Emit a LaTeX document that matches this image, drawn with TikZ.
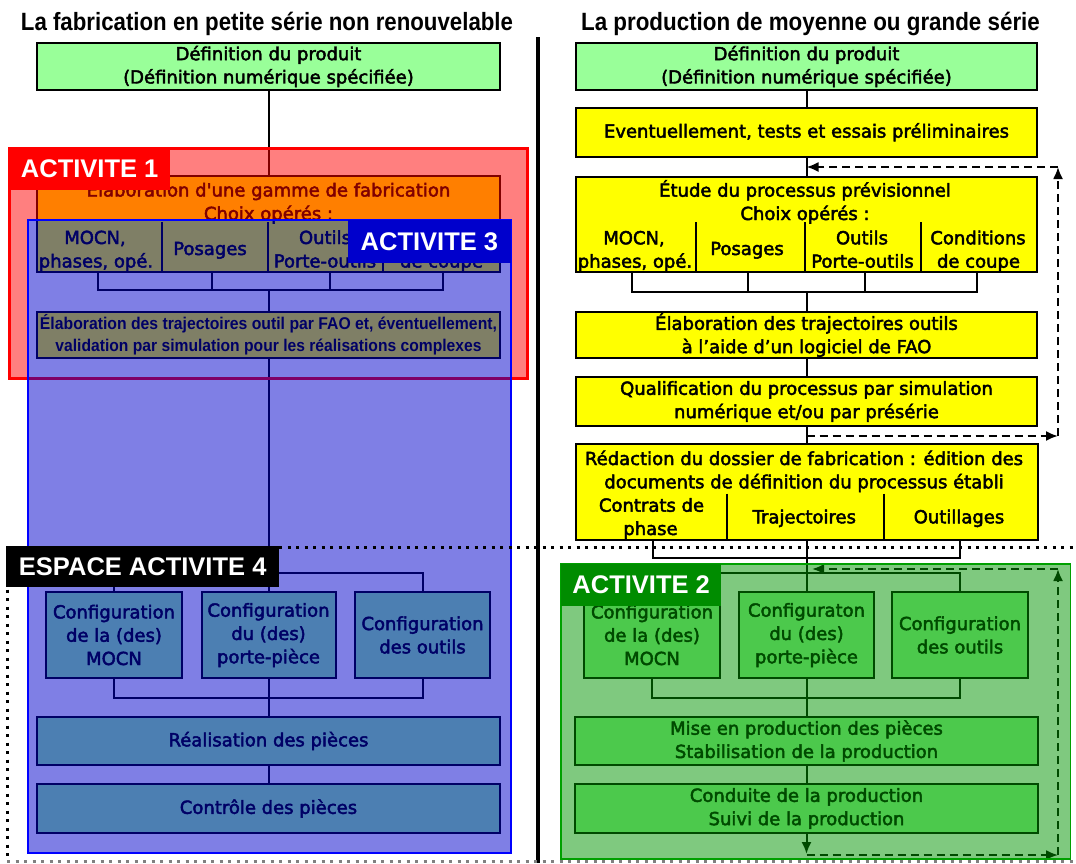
\documentclass[tikz,border=0pt]{standalone}
\usepackage{fontspec}
\usepackage{graphicx}
\setmainfont{DejaVu Sans}
\newfontfamily\boxfnt[FakeBold=2.5]{DejaVu Sans}
\newfontfamily\arialfnt{Liberation Sans}
\usetikzlibrary{arrows.meta}
\definecolor{lgreen}{HTML}{99FF99}
\definecolor{yel}{HTML}{FFFF00}
\definecolor{ovblue}{HTML}{0000CC}
\definecolor{ovgreen}{HTML}{009400}
\definecolor{lblgreen}{HTML}{008C00}
\definecolor{edgegreen}{HTML}{00A000}
\newcommand\bxf{\boxfnt\fontsize{18}{23.3}\selectfont}
\newcommand\lbf{\arialfnt\bfseries\fontsize{25.5}{30}\selectfont}
\newcommand\ttlf{\arialfnt\bfseries\fontsize{25}{30}\selectfont}
\newcommand\trjf{\arialfnt\bfseries\fontsize{17}{21.7}\selectfont}
\begin{document}
\begin{tikzpicture}[x=1pt,y=-1pt,
 bx/.style={draw=black, line width=2pt, inner sep=0pt, align=center, font=\bxf},
 tx/.style={inner sep=0pt, font=\bxf, anchor=base},
 ln/.style={line width=2pt, draw=black},
 dsh/.style={line width=2pt, draw=black, dash pattern=on 8pt off 5pt},
 tip/.style={-{Latex[length=12pt,width=10pt]}},
 lbl/.style={inner sep=0pt, anchor=north west, font=\lbf, text=white},
 dots/.style={line width=3pt, dash pattern=on 3pt off 5.5pt}
]
\fill[white] (0,0) rectangle (1076,863);
\useasboundingbox (0,0) rectangle (1076,863);

% titles
\node[inner sep=0pt, anchor=base] (ttlL) at (267,30.5) {\ttlf\scalebox{0.89}[1]{La fabrication en petite série non renouvelable}};
\node[inner sep=0pt, anchor=base] (ttlR) at (810.5,30.5) {\ttlf\scalebox{0.895}[1]{La production de moyenne ou grande série}};

% separator
\coordinate (sepT) at (538,37);
\coordinate (sepB) at (538,863);
\draw[line width=3.5pt] (sepT) -- (sepB);

% ================= LEFT =================
\node[bx, fill=lgreen, minimum width=463pt, minimum height=47pt] (defL) at (268.5,66.5) {Définition du produit\\(Définition numérique spécifiée)};
\node[bx, fill=yel, minimum width=463pt, minimum height=96pt] (gamL) at (268.5,224) {};
\node[tx] (gamL1) at (268.5,196.5) {Élaboration d'une gamme de fabrication};
\node[tx] (gamL2) at (268.5,220) {Choix opérés :};
\foreach \xx in {162,268,383} \draw[ln] (\xx,222) -- (\xx,272);
\node[tx] (cL1a) at (95,244) {MOCN,};
\node[tx] (cL1b) at (96,267.5) {phases, opé.};
\node[tx] (cL2) at (210,255) {Posages};
\node[tx] (cL3a) at (325,244) {Outils};
\node[tx] (cL3b) at (325,267.5) {Porte-outils};
\node[tx] (cL4a) at (441.5,244) {Conditions};
\node[tx] (cL4b) at (441.5,267.5) {de coupe};
\coordinate (dL1) at (98,272);
\coordinate (dL2) at (212,272);
\coordinate (dL3) at (330,272);
\coordinate (dL4) at (442.5,272);
\coordinate (busL1) at (268.5,290);
\node[bx, fill=yel, minimum width=463pt, minimum height=46pt, font=\trjf] (trajL) at (268.5,335) {\resizebox{457pt}{\height}{Élaboration des trajectoires outil par FAO et, éventuellement,}\\\resizebox{426pt}{\height}{validation par simulation pour les réalisations complexes}};
\draw[ln] (defL.south) -- (gamL.north);
\draw[ln] (dL1) -- (dL1 |- busL1) -- (dL4 |- busL1) -- (dL4);
\draw[ln] (dL2) -- (dL2 |- busL1);
\draw[ln] (dL3) -- (dL3 |- busL1);
\draw[ln] (busL1) -- (trajL.north);

\node[bx, fill=lgreen, minimum width=136pt, minimum height=86pt] (cfgL1) at (114,635) {Configuration\\de la (des)\\MOCN};
\node[bx, fill=lgreen, minimum width=134pt, minimum height=86pt] (cfgL2) at (268.5,635) {Configuration\\du (des)\\porte-pièce};
\node[bx, fill=lgreen, minimum width=135pt, minimum height=86pt] (cfgL3) at (422.5,635) {Configuration\\des outils};
\node[bx, fill=lgreen, minimum width=463pt, minimum height=48pt] (realL) at (268.5,741) {Réalisation des pièces};
\node[bx, fill=lgreen, minimum width=463pt, minimum height=49pt] (ctrlL) at (268.5,808.5) {Contrôle des pièces};
\coordinate (busL2) at (268.5,573);
\coordinate (busL3) at (268.5,698);
\draw[ln] (trajL.south) -- (cfgL2.north);
\draw[ln] (cfgL1.north) -- (cfgL1.north |- busL2) -- (cfgL3.north |- busL2) -- (cfgL3.north);
\draw[ln] (cfgL1.south) -- (cfgL1.south |- busL3) -- (cfgL3.south |- busL3) -- (cfgL3.south);
\draw[ln] (cfgL2.south) -- (realL.north);
\draw[ln] (realL.south) -- (ctrlL.north);

% ================= RIGHT =================
\node[bx, fill=lgreen, minimum width=461pt, minimum height=47pt] (defR) at (806.5,66.5) {Définition du produit\\(Définition numérique spécifiée)};
\node[bx, fill=yel, minimum width=461pt, minimum height=48.5pt] (evR) at (806.5,132.25) {Eventuellement, tests et essais préliminaires};
\node[bx, fill=yel, minimum width=461pt, minimum height=95pt] (etuR) at (806.5,224.5) {};
\node[tx] (etu1) at (805,196.7) {Étude du processus prévisionnel};
\node[tx] (etu2) at (805,220) {Choix opérés :};
\foreach \xx in {696,805,921} \draw[ln] (\xx,222) -- (\xx,272);
\node[tx] (cR1a) at (634,244.3) {MOCN,};
\node[tx] (cR1b) at (635,267.7) {phases, opé.};
\node[tx] (cR2) at (747,255) {Posages};
\node[tx] (cR3a) at (862,244.3) {Outils};
\node[tx] (cR3b) at (862.5,267.7) {Porte-outils};
\node[tx] (cR4a) at (978,244.3) {Conditions};
\node[tx] (cR4b) at (978.5,267.7) {de coupe};
\coordinate (dR1) at (632,272);
\coordinate (dR2) at (747.5,272);
\coordinate (dR3) at (865,272);
\coordinate (dR4) at (977,272);
\coordinate (busR1) at (806.5,292);
\node[bx, fill=yel, minimum width=461pt, minimum height=46pt] (elaR) at (806.5,335) {Élaboration des trajectoires outils\\à l’aide d’un logiciel de FAO};
\node[bx, fill=yel, minimum width=461pt, minimum height=49pt] (quaR) at (806.5,401.5) {Qualification du processus par simulation\\numérique et/ou par présérie};
\node[bx, fill=yel, minimum width=462pt, minimum height=96pt] (redR) at (806.5,492) {};
\node[tx] (red1) at (804,465) {Rédaction du dossier de fabrication : édition des};
\node[tx] (red2) at (804,488.3) {documents de définition du processus établi};
\foreach \xx in {727,883.5} \draw[ln] (\xx,493.5) -- (\xx,540);
\node[tx] (rc1a) at (651.5,511.7) {Contrats de};
\node[tx] (rc1b) at (650.5,535) {phase};
\node[tx] (rc2) at (804.3,523.3) {Trajectoires};
\node[tx] (rc3) at (959,523.3) {Outillages};
\draw[ln] (defR.south) -- (evR.north);
\draw[ln] (evR.south) -- (etuR.north);
\draw[ln] (dR1) -- (dR1 |- busR1) -- (dR4 |- busR1) -- (dR4);
\draw[ln] (dR2) -- (dR2 |- busR1);
\draw[ln] (dR3) -- (dR3 |- busR1);
\draw[ln] (busR1) -- (elaR.north);
\draw[ln] (elaR.south) -- (quaR.north);
\draw[ln] (quaR.south) -- (redR.north);

\node[bx, fill=lgreen, minimum width=136pt, minimum height=86pt] (cfgR1) at (652,635) {Configuration\\de la (des)\\MOCN};
\node[bx, fill=lgreen, minimum width=135pt, minimum height=86pt] (cfgR2) at (806.5,635) {Configuraton\\du (des)\\porte-pièce};
\node[bx, fill=lgreen, minimum width=136pt, minimum height=86pt] (cfgR3) at (960,635) {Configuration\\des outils};
\node[bx, fill=lgreen, minimum width=463pt, minimum height=48pt] (miseR) at (806.5,741) {Mise en production des pièces\\Stabilisation de la production};
\node[bx, fill=lgreen, minimum width=463pt, minimum height=49pt] (condR) at (806.5,808.5) {Conduite de la production\\Suivi de la production};
\coordinate (rC1) at (653,540);
\coordinate (rC3) at (960,540);
\coordinate (busR2) at (806.5,558);
\coordinate (busR3) at (806.5,573);
\coordinate (busR4) at (806.5,698);
\draw[ln] (rC1) -- (rC1 |- busR2) -- (rC3 |- busR2) -- (rC3);
\draw[ln] (redR.south) -- (cfgR2.north);
\draw[ln] (cfgR1.north) -- (cfgR1.north |- busR3) -- (cfgR3.north |- busR3) -- (cfgR3.north);
\draw[ln] (cfgR1.south) -- (cfgR1.south |- busR4) -- (cfgR3.south |- busR4) -- (cfgR3.south);
\draw[ln] (cfgR2.south) -- (miseR.north);
\draw[ln] (miseR.south) -- (condR.north);

% feedback loops
\coordinate (qlB) at (806.5,436);
\coordinate (qlBR) at (1058,436);
\coordinate (qlTR) at (1058,167);
\coordinate (qlTL) at (806.5,167);
\draw[dsh,tip] (qlB) -- (qlBR);
\draw[dsh,tip] (qlBR) -- (qlTR);
\draw[dsh,tip] (qlTR) -- (qlTL);

\coordinate (arrEnd) at (806.5,854);
\coordinate (lpBR) at (1058,855);
\coordinate (lpTR) at (1058,569);
\coordinate (lpTL) at (812,569);
\draw[ln,tip] (condR.south) -- (arrEnd);
\draw[dsh,tip] (arrEnd |- lpBR) -- (lpBR);
\draw[dsh,tip] (lpBR) -- (lpTR);
\draw[dsh,tip] (lpTR) -- (lpTL);

% ================= OVERLAYS =================
\fill[red, fill opacity=0.5, even odd rule] (9,148) rectangle (527,378) (28,220) rectangle (510.5,378);
\draw[red, line width=3pt] (9,148) rectangle (527,378);
\fill[ovblue, fill opacity=0.5] (28,220) rectangle (510.5,853);
\draw[blue, line width=2pt] (28,220) rectangle (510.5,853);
\fill[ovgreen, fill opacity=0.5] (561,564) rectangle (1070.5,859);
\draw[edgegreen, line width=1.5pt] (561,564) rectangle (1070.5,859);

% ESPACE ACTIVITE 4 dotted frame
\draw[dots] (7,547) -- (1080,547);
\draw[dots] (7,547) -- (7,861);
\draw[dots, gray] (7,861) -- (1080,861);

% labels
\node[lbl, fill=red, minimum width=161pt, minimum height=42pt] (lab1) at (9,148) {ACTIVITE 1};
\node[lbl, fill=ovblue, minimum width=162.5pt, minimum height=43pt] (lab3) at (348,220) {ACTIVITE 3};
\node[lbl, fill=black, minimum width=273pt, minimum height=41pt] (lab4) at (6,546) {ESPACE ACTIVITE 4};
\node[lbl, fill=lblgreen, minimum width=160pt, minimum height=42pt] (lab2) at (561,564) {ACTIVITE 2};
\end{tikzpicture}
\end{document}
